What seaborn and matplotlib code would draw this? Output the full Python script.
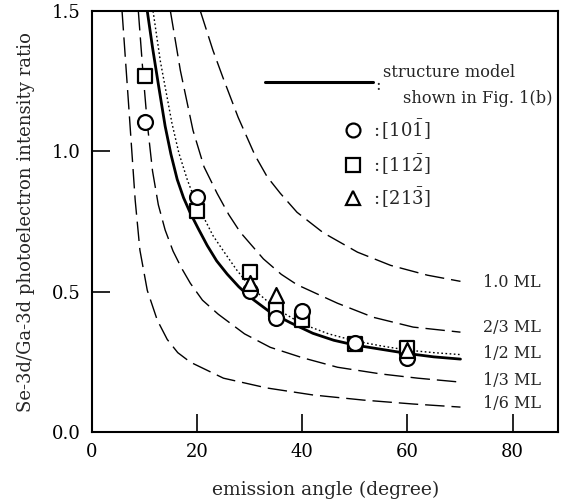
import numpy as np
import pandas as pd
import matplotlib
matplotlib.use('Agg')
import matplotlib.pyplot as plt
import seaborn as sns

sns.set_theme(style='ticks')
plt.rcParams['font.family'] = ['DejaVu Serif']
plt.rcParams['mathtext.fontset'] = 'dejavuserif'

# model curves (emission angle in degree, ratio)
model_x = [10.5, 11.5, 12.6, 13.9, 15.0, 16.2, 17.4, 18.7, 20.2, 21.9, 23.7,
           25.7, 27.9, 30.1, 33.9, 37.7, 42.0, 46.0, 50.0, 55.0, 60.0, 65.0, 70.1]
model_y = [1.5, 1.37, 1.24, 1.09, 0.99, 0.90, 0.835, 0.78, 0.725, 0.665, 0.61,
           0.563, 0.518, 0.48, 0.427, 0.39, 0.352, 0.327, 0.31, 0.295, 0.28, 0.268, 0.26]

dot_x = [11.6, 13.0, 15.2, 16.5, 18.1, 19.5, 21.1, 23.0, 25.0, 27.5, 30.0, 35.0,
         40.0, 45.0, 50.0, 55.0, 60.0, 65.0, 70.1]
dot_y = [1.5, 1.32, 1.1, 0.995, 0.90, 0.83, 0.77, 0.70, 0.645, 0.578, 0.52, 0.44,
         0.385, 0.35, 0.325, 0.307, 0.292, 0.283, 0.276]

ml10_x = [20.6, 23.0, 24.9, 27.8, 31.0, 33.3, 35.8, 39.0, 44.0, 50.5, 56.8, 63.8, 70.1]
ml10_y = [1.5, 1.36, 1.263, 1.121, 0.986, 0.91, 0.851, 0.783, 0.71, 0.641, 0.594, 0.559, 0.537]

ml23_x = [14.9, 16.8, 19.2, 21.3, 23.8, 26.0, 28.2, 32.6, 36.0, 39.0, 46.7, 53.5, 61.1, 70.1]
ml23_y = [1.5, 1.288, 1.075, 0.945, 0.85, 0.775, 0.712, 0.617, 0.562, 0.525, 0.459,
          0.409, 0.374, 0.356]

ml13_x = [8.8, 9.6, 10.5, 11.5, 12.6, 13.9, 15.4, 17.0, 18.7, 21.0, 24.0, 29.0,
          33.9, 40.0, 46.7, 55.0, 62.0, 70.1]
ml13_y = [1.5, 1.3, 1.1, 0.93, 0.81, 0.72, 0.645, 0.585, 0.53, 0.47, 0.42, 0.35,
          0.302, 0.265, 0.231, 0.207, 0.192, 0.178]

ml16_x = [5.7, 6.9, 8.2, 9.1, 10.5, 12.4, 14.3, 16.3, 18.7, 25.0, 33.3, 42.1, 51.6, 61.1, 70.1]
ml16_y = [1.5, 1.18, 0.826, 0.648, 0.505, 0.399, 0.33, 0.283, 0.249, 0.192, 0.157,
          0.132, 0.114, 0.1, 0.089]

# measured points
c_x = [10, 20, 30, 35, 40, 50, 60]
c_y = [1.103, 0.836, 0.502, 0.406, 0.43, 0.317, 0.263]
s_x = [10, 20, 30, 35, 40, 50, 60]
s_y = [1.267, 0.787, 0.569, 0.434, 0.40, 0.313, 0.30]
t_x = [30, 35, 60]
t_y = [0.53, 0.487, 0.292]

ml_labels = ['1.0 ML', '2/3 ML', '1/2 ML', '1/3 ML', '1/6 ML']
ml_label_y = [0.534, 0.374, 0.281, 0.185, 0.103]

fig = plt.figure(figsize=(5.65, 5.03), dpi=100)
ax = fig.add_axes([0.163, 0.141, 0.825, 0.837])

dash = (0, (14, 5))
for xs, ys in [(ml10_x, ml10_y), (ml23_x, ml23_y), (ml13_x, ml13_y), (ml16_x, ml16_y)]:
    sns.lineplot(x=xs, y=ys, ax=ax, color='black', lw=1.0, linestyle=dash, sort=False)
sns.lineplot(x=dot_x, y=dot_y, ax=ax, color='black', lw=1.0, linestyle=(0, (1.2, 1.8)), sort=False)
sns.lineplot(x=model_x, y=model_y, ax=ax, color='black', lw=2.0, sort=False)

mk = dict(facecolor='white', edgecolor='black', linewidth=1.6, s=115, zorder=3, ax=ax)
sns.scatterplot(x=s_x, y=s_y, marker='s', **mk)
sns.scatterplot(x=c_x, y=c_y, marker='o', **mk)
sns.scatterplot(x=t_x, y=t_y, marker='^', **mk)

for lab, yy in zip(ml_labels, ml_label_y):
    ax.text(74.3, yy, lab, fontsize=11.5, va='center', ha='left')

# legend block
ax.plot([0.371, 0.603], [0.831, 0.831], transform=ax.transAxes, color='black', lw=2.2)
ax.text(0.607, 0.823, ':', transform=ax.transAxes, fontsize=12, va='center')
ax.text(0.624, 0.853, 'structure model', transform=ax.transAxes, fontsize=11.7, va='center')
ax.text(0.667, 0.793, 'shown in Fig. 1(b)', transform=ax.transAxes, fontsize=11.7, va='center')
leg = [('o', 0.717, r':$\,[10\bar{1}]$'), ('s', 0.634, r':$\,[11\bar{2}]$'),
       ('^', 0.556, r':$\,[21\bar{3}]$')]
for m, fy, lab in leg:
    ax.plot([0.56], [fy], marker=m, transform=ax.transAxes, ms=10, mfc='white',
            mec='black', mew=1.6, ls='none')
    ax.text(0.603, fy, lab, transform=ax.transAxes, fontsize=13, va='center')

ax.set_xlim(0, 88.7)
ax.set_ylim(0, 1.5)
ax.set_xticks([0, 20, 40, 60, 80])
ax.set_yticks([0.0, 0.5, 1.0, 1.5])
ax.set_yticklabels(['0.0', '0.5', '1.0', '1.5'])
ax.tick_params(direction='in', length=13, width=1.2, labelsize=13, colors='black', pad=8)
for sp in ax.spines.values():
    sp.set_linewidth(1.5)
    sp.set_color('black')
ax.set_xlabel('emission angle (degree)', fontsize=13.5, labelpad=14)
ax.set_ylabel('Se-3d/Ga-3d photoelectron intensity ratio', fontsize=13, labelpad=12)

fig.savefig('out.png', dpi=100)
